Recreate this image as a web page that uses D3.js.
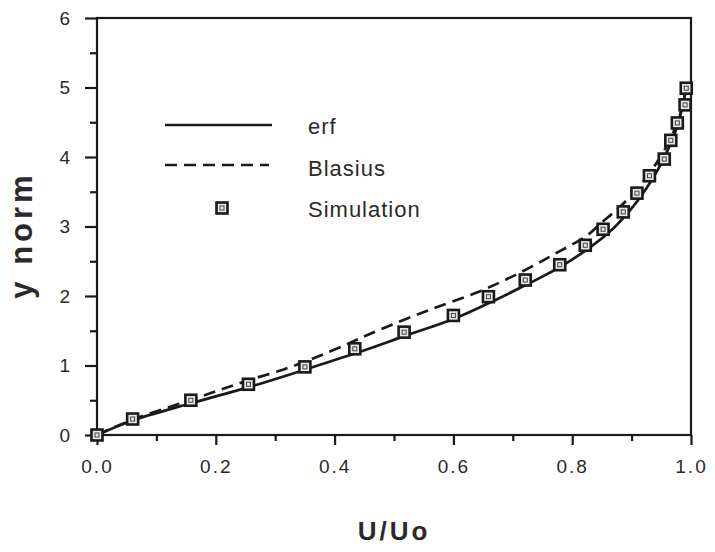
<!DOCTYPE html>
<html>
<head>
<meta charset="utf-8">
<script src="https://cdn.jsdelivr.net/npm/d3@7"></script>
<style>
  body { margin: 0; background: #fff; }
  svg { display: block; font-family: "Liberation Sans", Arial, sans-serif; }
</style>
</head>
<body>
<div id="chart"></div>
<script>
/* Chart data. */
// Simulation markers (U/Uo, y norm).
const simU = [0, 0.060, 0.158, 0.255, 0.350, 0.434, 0.517, 0.600, 0.659, 0.721, 0.779,
    0.822, 0.852, 0.886, 0.909, 0.930, 0.955, 0.966, 0.977, 0.990, 0.992];
const simY = [0, 0.23, 0.50, 0.73, 0.98, 1.24, 1.48, 1.72, 1.99, 2.23, 2.45,
    2.73, 2.96, 3.21, 3.48, 3.73, 3.97, 4.24, 4.49, 4.75, 4.99];

// erf profile (solid).
const erfU = [0, 0.06, 0.16, 0.26, 0.35, 0.44, 0.52, 0.60, 0.66, 0.72, 0.78,
    0.83, 0.87, 0.90, 0.925, 0.945, 0.962, 0.975, 0.985, 0.992];
const erfY = [0, 0.21, 0.46, 0.70, 0.94, 1.19, 1.43, 1.67, 1.90, 2.15, 2.42,
    2.70, 2.98, 3.26, 3.55, 3.83, 4.12, 4.40, 4.70, 5.00];

// Blasius profile (dashed).
const blasU = [0, 0.06, 0.16, 0.26, 0.32, 0.40, 0.48, 0.56, 0.645, 0.72, 0.78,
    0.82, 0.85, 0.88, 0.905, 0.93, 0.952, 0.97, 0.983, 0.992];
const blasY = [0, 0.22, 0.51, 0.80, 0.96, 1.23, 1.53, 1.80, 2.07, 2.37, 2.65,
    2.84, 3.06, 3.28, 3.50, 3.77, 4.05, 4.35, 4.65, 5.00];

const xTicks = [0, 0.2, 0.4, 0.6, 0.8, 1.0];
const xMinor = [0.1, 0.3, 0.5, 0.7, 0.9];
const yTicks = [0, 1, 2, 3, 4, 5, 6];
const yMinor = [0.5, 1.5, 2.5, 3.5, 4.5, 5.5];
const legendLabels = ['erf', 'Blasius', 'Simulation'];

const ink = '#1a1a1a';
const margin = {top: 18, right: 24, bottom: 117, left: 97};
const width = 715 - margin.left - margin.right;
const height = 552 - margin.top - margin.bottom;

const svg = d3.select('#chart').append('svg')
    .attr('width', 715)
    .attr('height', 552);
const g = svg.append('g')
    .attr('transform', 'translate(' + margin.left + ',' + margin.top + ')');

const x = d3.scaleLinear().domain([0, 1]).range([0, width]);
const y = d3.scaleLinear().domain([0, 6]).range([height, 0]);

// Axes: major ticks with labels, minor ticks without.
function styleAxis(sel) {
    sel.select('.domain').remove();
    sel.selectAll('line').attr('stroke', ink).attr('stroke-width', 2.2);
    sel.selectAll('text')
        .attr('fill', '#2a2a2a')
        .style('font-size', '19px')
        .style('letter-spacing', '2px');
}

g.append('g').attr('transform', 'translate(0,' + height + ')')
    .call(d3.axisBottom(x).tickValues(xTicks).tickSize(10).tickPadding(15).tickFormat(d3.format('.1f')))
    .call(styleAxis);
g.append('g').attr('transform', 'translate(0,' + height + ')')
    .call(d3.axisBottom(x).tickValues(xMinor).tickSize(6).tickFormat(''))
    .call(styleAxis);
g.append('g')
    .call(d3.axisLeft(y).tickValues(yTicks).tickSize(12).tickPadding(13).tickFormat(d3.format('d')))
    .call(styleAxis);
g.append('g')
    .call(d3.axisLeft(y).tickValues(yMinor).tickSize(7).tickFormat(''))
    .call(styleAxis);

// Plot frame.
g.append('rect')
    .attr('width', width)
    .attr('height', height)
    .attr('fill', 'none')
    .attr('stroke', ink)
    .attr('stroke-width', 2.2);

// Curves.
const line = d3.line()
    .x(function (d) { return x(d[0]); })
    .y(function (d) { return y(d[1]); })
    .curve(d3.curveMonotoneY);

g.append('path')
    .datum(d3.zip(blasU, blasY))
    .attr('d', line)
    .attr('fill', 'none')
    .attr('stroke', ink)
    .attr('stroke-width', 2.7)
    .attr('stroke-dasharray', '12,7');

g.append('path')
    .datum(d3.zip(erfU, erfY))
    .attr('d', line)
    .attr('fill', 'none')
    .attr('stroke', ink)
    .attr('stroke-width', 2.7);

// Simulation markers.
function marker(sel) {
    sel.append('rect')
        .attr('x', -5.5).attr('y', -5.5)
        .attr('width', 11).attr('height', 11)
        .attr('fill', '#e6e6e6')
        .attr('stroke', ink)
        .attr('stroke-width', 2.6);
    sel.append('rect')
        .attr('x', -2).attr('y', -2)
        .attr('width', 4).attr('height', 4)
        .attr('fill', 'none')
        .attr('stroke', '#444')
        .attr('stroke-width', 1);
}

g.selectAll('g.sim')
    .data(d3.zip(simU, simY))
    .enter()
    .append('g')
    .attr('class', 'sim')
    .attr('transform', function (d) {
        return 'translate(' + x(d[0]) + ',' + y(d[1]) + ')';
    })
    .call(marker);

// Legend.
const legend = svg.append('g');
legend.append('line')
    .attr('x1', 165).attr('x2', 272).attr('y1', 125).attr('y2', 125)
    .attr('stroke', ink).attr('stroke-width', 2.7);
legend.append('line')
    .attr('x1', 165).attr('x2', 269).attr('y1', 165).attr('y2', 165)
    .attr('stroke', ink).attr('stroke-width', 2.7)
    .attr('stroke-dasharray', '12,7');
legend.append('g')
    .attr('transform', 'translate(222,208)')
    .call(marker);
legend.selectAll('text')
    .data(legendLabels)
    .enter()
    .append('text')
    .attr('x', 308)
    .attr('y', function (d, i) { return 134 + i * 41.5; })
    .attr('fill', '#2a2a2a')
    .style('font-size', '22px')
    .style('letter-spacing', '1px')
    .text(function (d) { return d; });

// Axis titles.
svg.append('text')
    .attr('x', 394)
    .attr('y', 540)
    .attr('text-anchor', 'middle')
    .attr('fill', '#2a2a2a')
    .style('font-size', '26px')
    .style('font-weight', 'bold')
    .style('letter-spacing', '3px')
    .text('U/Uo');

svg.append('text')
    .attr('transform', 'translate(32,235) rotate(-90)')
    .attr('text-anchor', 'middle')
    .attr('fill', '#2a2a2a')
    .style('font-size', '31px')
    .style('font-weight', 'bold')
    .style('letter-spacing', '4px')
    .text('y norm');
</script>
</body>
</html>
